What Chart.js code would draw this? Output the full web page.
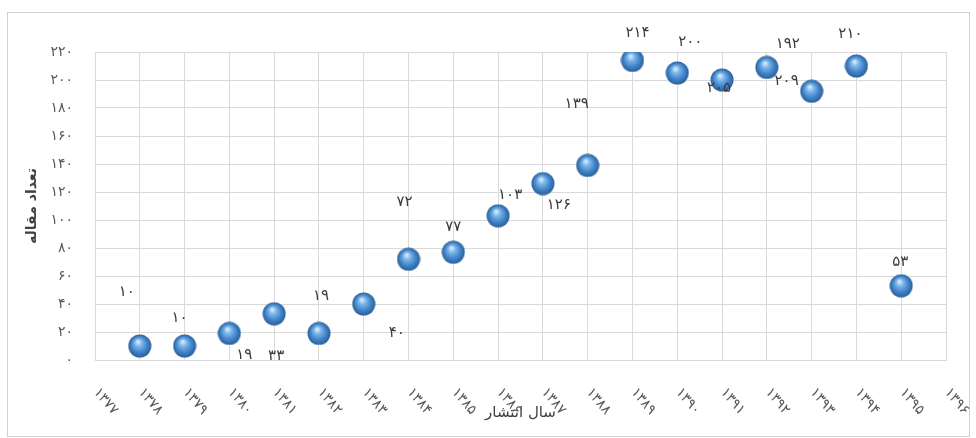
<!DOCTYPE html>
<html>
<head>
<meta charset="utf-8">
<script src="https://cdn.jsdelivr.net/npm/chart.js@4/dist/chart.umd.min.js"></script>
<style>
  html, body { margin: 0; padding: 0; background: #fff; }
  #wrap { width: 976px; height: 438px; position: relative; }
</style>
</head>
<body>
<div id="wrap"><canvas id="chart"></canvas></div>
<script>
// سال‌ها (محور افقی)
const years = ['۱۳۷۷', '۱۳۷۸', '۱۳۷۹', '۱۳۸۰', '۱۳۸۱', '۱۳۸۲', '۱۳۸۳', '۱۳۸۴', '۱۳۸۵', '۱۳۸۶',
               '۱۳۸۷', '۱۳۸۸', '۱۳۸۹', '۱۳۹۰', '۱۳۹۱', '۱۳۹۲', '۱۳۹۳', '۱۳۹۴', '۱۳۹۵', '۱۳۹۶'];

// تعداد مقاله در هر سال
const articleCounts = [null, 10, 10, 19, 33, 19, 40, 72, 77, 103,
                       126, 139, 214, 205, 200, 209, 192, 210, 53, null];

// برچسب‌های داده همانطور که در تصویر آمده
const valueLabels = [null, '۱۰', '۱۰', '۱۹', '۳۳', '۱۹', '۴۰', '۷۲', '۷۷', '۱۰۳',
                     '۱۲۶', '۱۳۹', '۲۱۴', '۲۰۰', '۲۰۵', '۱۹۲', '۲۰۹', '۲۱۰', '۵۳', null];

const yTitle = 'تعداد مقاله';
const xTitle = 'سال انتشار';

// جابجایی برچسب‌ها نسبت به نقطه (پیکسل)
const labelOffsets = [null, [-13, -54], [-5, -28], [15, 22], [2, 42], [2, -37], [33, 29], [-4, -57], [0, -25], [12, -21],
                      [16, 22], [-11, -61], [5, -27], [13, -31], [-3, 8], [21, -23], [-25, -10], [-6, -32], [-1, -24], null];

const FONT = '"DejaVu Sans", "Noto Sans", sans-serif';
const GRID = '#d9d9d9';

/**
 * کره سه‌بعدی آبی برای نقاط
 */
function makeSphere() {
    const size = 24;
    const c = document.createElement('canvas');
    c.width = size; c.height = size;
    const g = c.getContext('2d');
    const r = size / 2 - 0.5;
    const grad = g.createRadialGradient(size * 0.42, size * 0.32, 1, size / 2, size / 2, r);
    grad.addColorStop(0, '#cfe7fb');
    grad.addColorStop(0.25, '#7db7ea');
    grad.addColorStop(0.65, '#4385cb');
    grad.addColorStop(1, '#2a5f98');
    g.beginPath();
    g.arc(size / 2, size / 2, r, 0, Math.PI * 2);
    g.fillStyle = grad;
    g.fill();
    return c;
}

// کادر دور نمودار
const framePlugin = {
    id: 'frame',
    beforeDraw(chart) {
        const ctx = chart.ctx;
        ctx.save();
        ctx.fillStyle = '#fff';
        ctx.fillRect(0, 0, chart.width, chart.height);
        ctx.strokeStyle = '#d0d0d0';
        ctx.lineWidth = 1;
        ctx.strokeRect(7.5, 12.5, 962, 424);
        ctx.restore();
    }
};

// برچسب‌های چرخیده محور افقی و برچسب داده‌ها
const labelsPlugin = {
    id: 'labels',
    afterDraw(chart) {
        const ctx = chart.ctx;
        const xs = chart.scales.x;
        ctx.save();
        ctx.font = '14px ' + FONT;
        ctx.fillStyle = '#595959';
        ctx.textAlign = 'left';
        ctx.textBaseline = 'middle';
        years.forEach((y, i) => {
            const px = xs.getPixelForValue(i);
            ctx.save();
            ctx.translate(px + 1, chart.chartArea.bottom + 30);
            ctx.rotate(50 * Math.PI / 180);
            ctx.fillText(y, 0, 0);
            ctx.restore();
        });

        const meta = chart.getDatasetMeta(0);
        ctx.font = '15px ' + FONT;
        ctx.fillStyle = '#3a3a3a';
        ctx.textAlign = 'center';
        meta.data.forEach((pt, i) => {
            if (!valueLabels[i]) return;
            const off = labelOffsets[i];
            ctx.fillText(valueLabels[i], pt.x + off[0], pt.y + off[1]);
        });
        ctx.restore();
    }
};

const ctx = document.getElementById('chart').getContext('2d');
const sphere = makeSphere();

new Chart(ctx, {
    type: 'line',
    data: {
        labels: years,
        datasets: [{
            data: articleCounts,
            showLine: false,
            pointStyle: sphere,
            pointRadius: 12,
            pointHoverRadius: 12
        }]
    },
    options: {
        responsive: true,
        maintainAspectRatio: false,
        animation: false,
        events: [],
        layout: { padding: { top: 52, right: 30, bottom: 16, left: 0 } },
        plugins: {
            legend: { display: false },
            tooltip: { enabled: false }
        },
        scales: {
            x: {
                offset: false,
                afterFit(scale) { scale.height = 62; },
                grid: { color: GRID, drawTicks: false },
                border: { color: GRID },
                ticks: { display: false },
                title: {
                    display: true,
                    text: xTitle,
                    color: '#404040',
                    font: { family: FONT, size: 15 },
                    padding: { top: 0, bottom: 0 }
                }
            },
            y: {
                min: 0,
                max: 220,
                afterFit(scale) { scale.width = 95; },
                grid: { color: GRID, drawTicks: false },
                border: { color: GRID },
                ticks: {
                    stepSize: 20,
                    padding: 22,
                    color: '#595959',
                    font: { family: FONT, size: 14 },
                    callback: v => Number(v).toLocaleString('fa-IR')
                },
                title: {
                    display: true,
                    text: yTitle,
                    color: '#404040',
                    font: { family: FONT, size: 14, weight: 'bold' },
                    padding: { top: 24, bottom: 0 }
                }
            }
        }
    },
    plugins: [framePlugin, labelsPlugin]
});
</script>
</body>
</html>
